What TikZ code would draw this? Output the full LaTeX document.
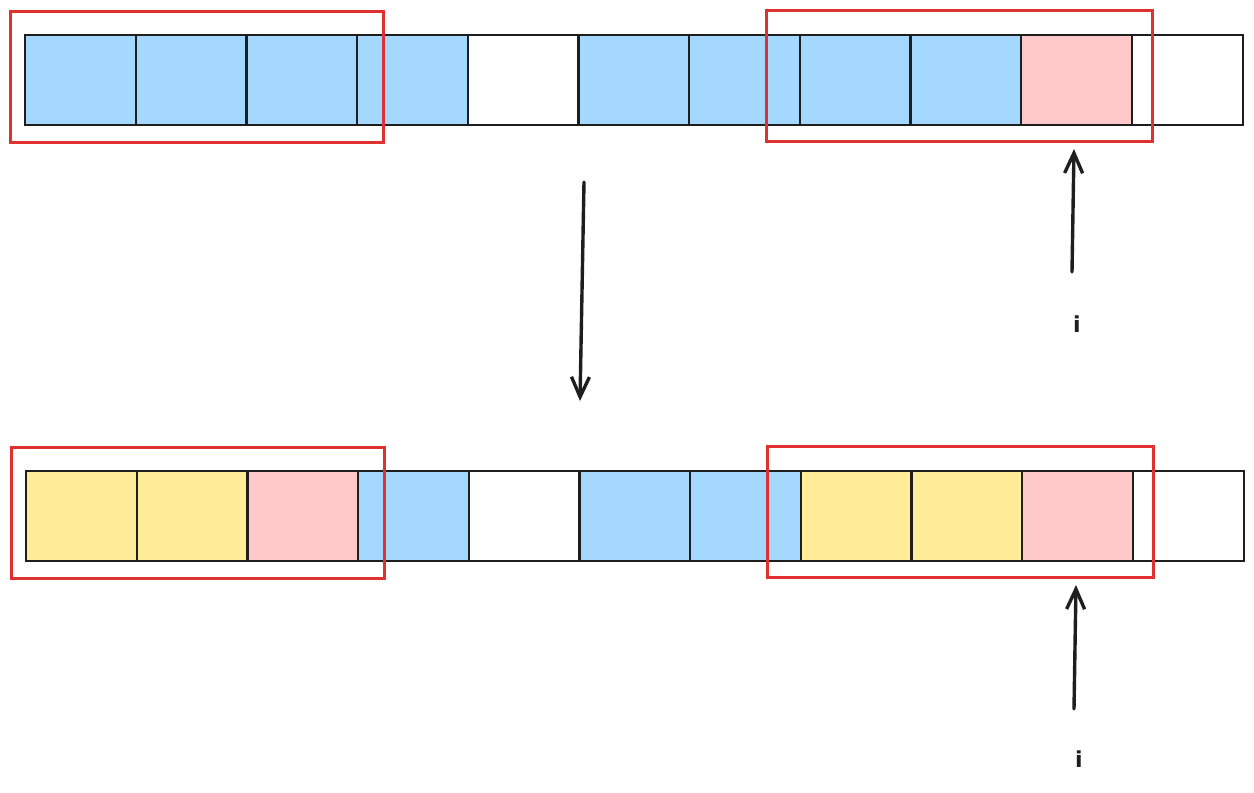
\documentclass[tikz,border=0pt]{standalone}
\usepackage{fontspec}
\setmainfont{DejaVu Sans}
\usetikzlibrary{arrows.meta}
\definecolor{cblue}{HTML}{A5D8FF}
\definecolor{cpink}{HTML}{FFC9C9}
\definecolor{cyellow}{HTML}{FFEC99}
\definecolor{cred}{HTML}{E03131}
\definecolor{cink}{HTML}{1E1E1E}
\tikzset{
  cell/.style={minimum width=110.8pt, minimum height=90pt, inner sep=0pt, outer sep=0pt},
  celledge/.style={draw=cink, line width=2.2pt},
  redbox/.style={draw=cred, line width=3pt, inner sep=0pt, outer sep=0pt},
  arr/.style={draw=cink, line width=3.4pt, line cap=round, -{Straight Barb[length=20pt,width=18pt,line width=3.4pt]}},
  lbl/.style={text=cink, font=\fontsize{22}{22}\selectfont\bfseries, inner sep=0pt}
}
\begin{document}
\begin{tikzpicture}[x=1pt,y=-1pt]
\useasboundingbox (0,0) rectangle (1254,793);
% top row
\foreach \c [count=\k from 0] in {cblue,cblue,cblue,cblue,white,cblue,cblue,cblue,cblue,cpink,white}{
  \node[cell, fill=\c] (t\k) at ({25+110.7*\k+55.35},80) {};
}
\foreach \k in {0,...,10}{ \draw[celledge] (t\k.south west) rectangle (t\k.north east); }
% bottom row
\foreach \c [count=\k from 0] in {cyellow,cyellow,cpink,cblue,white,cblue,cblue,cyellow,cyellow,cpink,white}{
  \node[cell, fill=\c] (b\k) at ({26+110.7*\k+55.35},516) {};
}
\foreach \k in {0,...,10}{ \draw[celledge] (b\k.south west) rectangle (b\k.north east); }
% red boxes
\node[redbox, minimum width=373pt, minimum height=131pt] (rtl) at (196.5,76.5) {};
\node[redbox, minimum width=386pt, minimum height=131pt] (rtr) at (959,75.5) {};
\node[redbox, minimum width=373pt, minimum height=131pt] (rbl) at (197.5,512.5) {};
\node[redbox, minimum width=386pt, minimum height=131pt] (rbr) at (960,511.5) {};
% labels
\node[lbl] (i1) at (1077,324) {i};
\node[lbl] (i2) at (1079,759) {i};
% arrows
\coordinate (d1) at (584,182);
\coordinate (d2) at (580,401);
\draw[arr] (d1) -- (d2);
\coordinate (u1s) at (1072,272);
\coordinate (u1e) at (1074,149);
\draw[arr] (u1s) -- (u1e);
\coordinate (u2s) at (1074,709);
\coordinate (u2e) at (1076,585);
\draw[arr] (u2s) -- (u2e);
\end{tikzpicture}
\end{document}
